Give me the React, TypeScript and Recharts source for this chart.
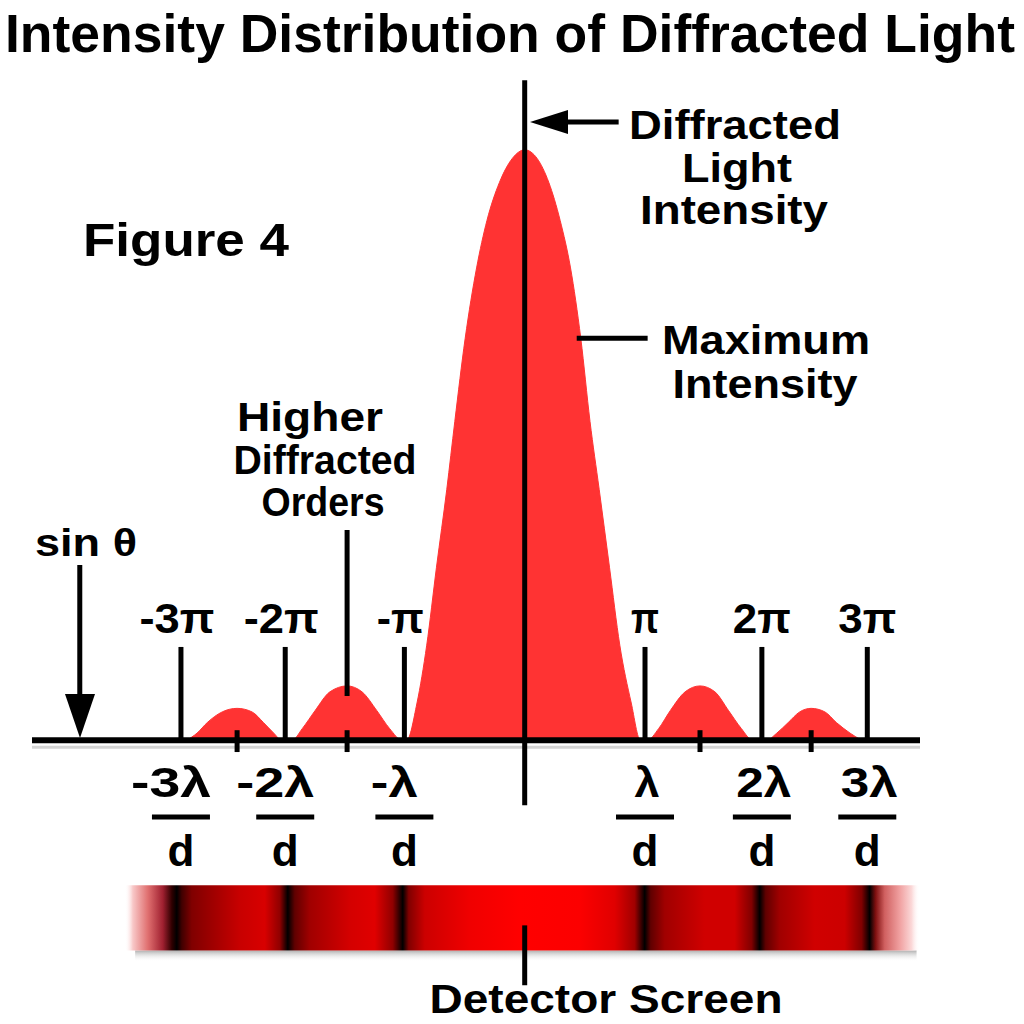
import React from 'react';
import { ComposedChart, Area, XAxis, YAxis, ReferenceLine, ReferenceArea } from 'recharts';

// phase position (approx. units of pi) and relative intensity
const phase = [
  -2.95, -2.86, -2.77, -2.64, -2.51, -2.38, -2.28, -2.19, -2.12,
  -2.03, -1.94, -1.83, -1.7, -1.55, -1.42, -1.29, -1.18, -1.07,
  -1.03, -0.94, -0.855, -0.77, -0.68, -0.61, -0.52, -0.42, -0.33, -0.22, -0.11, 0,
  0.11, 0.21, 0.31, 0.4, 0.49, 0.57, 0.65, 0.74, 0.83, 0.93, 1.01,
  1.07, 1.17, 1.27, 1.4, 1.53, 1.66, 1.78, 1.89, 1.99,
  2.11, 2.2, 2.3, 2.4, 2.5, 2.62, 2.72, 2.84, 2.94,
];
const intensity = [
  0, 0.012, 0.03, 0.048, 0.054, 0.048, 0.03, 0.012, 0,
  0, 0.02, 0.05, 0.082, 0.092, 0.082, 0.05, 0.02, 0,
  0, 0.063, 0.161, 0.293, 0.425, 0.54, 0.68, 0.8, 0.88, 0.945, 0.985, 1.0,
  0.985, 0.945, 0.88, 0.8, 0.68, 0.54, 0.425, 0.293, 0.161, 0.063, 0,
  0, 0.02, 0.05, 0.082, 0.092, 0.082, 0.05, 0.02, 0,
  0, 0.012, 0.03, 0.048, 0.054, 0.048, 0.03, 0.012, 0,
];

const piTicks = [-3.0, -2.09, -1.05, 1.05, 2.07, 2.99];
const piLabels = ['-3π', '-2π', '-π', 'π', '2π', '3π'];
const lambdaLabels = ['-3λ', '-2λ', '-λ', 'λ', '2λ', '3λ'];
const lobeCenters = [-2.51, -1.55, 1.53, 2.5];

const data = phase.map((x, i) => ({ x, y: intensity[i] }));

const FONT = '"Liberation Sans", Arial, Helvetica, sans-serif';
const piW = [75, 75, 47, 28, 58, 58];
const lamW = [80, 78, 47, 25, 55, 57];

// detector screen gradient stops: [position across bar 0..795, color, opacity]
const screenStops: [number, string, number][] = [
  [0, '#ffffff', 0], [8, '#f8c8c8', 1], [23, '#e07070', 1], [38, '#a02030', 1],
  [47, '#300000', 1], [52, '#000000', 1], [57, '#400000', 1], [67, '#800000', 1],
  [115, '#c80000', 1], [140, '#d80000', 1], [155, '#900000', 1], [163, '#000000', 1],
  [170, '#600000', 1], [185, '#a00000', 1], [225, '#d40000', 1], [250, '#e00000', 1],
  [268, '#900000', 1], [278, '#000000', 1], [284, '#800000', 1], [300, '#cc0000', 1],
  [345, '#f00000', 1], [395, '#ff0000', 1], [455, '#fc0000', 1], [490, '#e00000', 1],
  [510, '#a00000', 1], [520, '#000000', 1], [526, '#600000', 1], [540, '#a00000', 1],
  [580, '#d00000', 1], [610, '#d00000', 1], [627, '#800000', 1], [635, '#000000', 1],
  [641, '#600000', 1], [655, '#a00000', 1], [690, '#d00000', 1], [720, '#cc0000', 1],
  [737, '#800000', 1], [745, '#000000', 1], [751, '#801010', 1], [760, '#d06060', 1],
  [775, '#f0a0a0', 1], [787, '#fbd8d8', 1], [795, '#ffffff', 0],
];

function PhaseTick(props: any) {
  const { x, payload } = props;
  const i = piTicks.indexOf(payload.value);
  if (i < 0) return null;
  const neg = payload.value < 0;
  return (
    <g fontFamily={FONT} fontWeight="bold">
      <text x={x + (neg ? -4 : 0)} y={633} textAnchor="middle" fontSize={42} fill="#000"
        textLength={piW[i]} lengthAdjust="spacingAndGlyphs">{piLabels[i]}</text>
      <text x={x + (neg ? -10 : 2)} y={797} textAnchor="middle" fontSize={42} fill="#000"
        textLength={lamW[i]} lengthAdjust="spacingAndGlyphs">{lambdaLabels[i]}</text>
      <line x1={x - 29} x2={x + 29} y1={817} y2={817} stroke="#000" strokeWidth={5} />
      <text x={x} y={866} textAnchor="middle" fontSize={44} fill="#000">d</text>
    </g>
  );
}

const T = (p: { x: number; y: number; s: number; w: number; children: string }) => (
  <text x={p.x} y={p.y} fontSize={p.s} textAnchor="middle" textLength={p.w}
    lengthAdjust="spacingAndGlyphs" fontFamily={FONT} fontWeight="bold" fill="#000">{p.children}</text>
);

export default function App() {
  return (
    <div style={{ position: 'absolute', left: 0, top: 0, width: 1024, height: 1024, background: '#fff' }}>
      <ComposedChart width={1024} height={1024} data={data}
        margin={{ top: 79, right: 104, bottom: 0, left: 32 }}>
        <defs>
          <linearGradient id="screenGrad" x1="0" y1="0" x2="1" y2="0">
            {screenStops.map(([p, c, o], k) => (
              <stop key={k} offset={p / 795} stopColor={c} stopOpacity={o} />
            ))}
          </linearGradient>
          <linearGradient id="shadowGrad" x1="0" y1="0" x2="0" y2="1">
            <stop offset="0" stopColor="#9a9a9a" stopOpacity={0.8} />
            <stop offset="1" stopColor="#ffffff" stopOpacity={0} />
          </linearGradient>
        </defs>
        <XAxis dataKey="x" type="number" domain={[-4.3, 3.45]} allowDataOverflow
          ticks={piTicks} interval={0} tick={PhaseTick} tickLine={false} axisLine={false} height={24} />
        <YAxis hide type="number" domain={[-0.44, 1.12]} allowDataOverflow />
        <Area type="monotone" dataKey="y" baseValue={0} fill="#ff3333" fillOpacity={1}
          stroke="#ff3333" strokeWidth={1} isAnimationActive={false} />

        <ReferenceArea x1={-3.4} x2={3.42} y1={-0.375} y2={-0.356} fill="url(#shadowGrad)" fillOpacity={1} stroke="none" />
        <ReferenceArea x1={-3.49} x2={3.447} y1={-0.356} y2={-0.2458} fill="url(#screenGrad)" fillOpacity={1} stroke="none" />

        <ReferenceLine y={-0.012} stroke="#d4d4d4" strokeWidth={3} />
        <ReferenceLine y={0} stroke="#000" strokeWidth={6} />
        <ReferenceLine segment={[{ x: 0, y: -0.11 }, { x: 0, y: 1.118 }]} stroke="#000" strokeWidth={5} />
        <ReferenceLine segment={[{ x: 0, y: -0.415 }, { x: 0, y: -0.3136 }]} stroke="#000" strokeWidth={5} />
        {piTicks.map((t) => (
          <ReferenceLine key={'p' + t} segment={[{ x: t, y: 0 }, { x: t, y: 0.158 }]} stroke="#000" strokeWidth={5} />
        ))}
        {lobeCenters.map((t) => (
          <ReferenceLine key={'l' + t} segment={[{ x: t, y: -0.02 }, { x: t, y: 0.017 }]} stroke="#000" strokeWidth={5} />
        ))}
        <ReferenceLine segment={[{ x: -1.55, y: 0.075 }, { x: -1.55, y: 0.356 }]} stroke="#000" strokeWidth={5} />
        <ReferenceLine segment={[{ x: 0.454, y: 0.681 }, { x: 1.073, y: 0.681 }]} stroke="#000" strokeWidth={5} />
        <ReferenceLine segment={[{ x: 0.3, y: 1.047 }, { x: 0.82, y: 1.047 }]} stroke="#000" strokeWidth={5} />
        <ReferenceLine segment={[{ x: -3.883, y: 0.068 }, { x: -3.883, y: 0.2966 }]} stroke="#000" strokeWidth={5} />
      </ComposedChart>

      <svg width={1024} height={1024} style={{ position: 'absolute', left: 0, top: 0, pointerEvents: 'none' }}>
        <T x={510} y={52} s={53} w={1010}>Intensity Distribution of Diffracted Light</T>
        <T x={186} y={256} s={46} w={206}>Figure 4</T>
        <T x={735} y={139} s={41} w={212}>Diffracted</T>
        <T x={737} y={182} s={41} w={110}>Light</T>
        <T x={734} y={224} s={41} w={188}>Intensity</T>
        <T x={766} y={354} s={40} w={208}>Maximum</T>
        <T x={765} y={398} s={40} w={185}>Intensity</T>
        <T x={310} y={431} s={40} w={146}>Higher</T>
        <T x={325} y={474} s={40} w={183}>Diffracted</T>
        <T x={323} y={516} s={40} w={123}>Orders</T>
        <T x={86} y={556} s={38} w={102}>sin θ</T>
        <T x={606} y={1013} s={40} w={353}>Detector Screen</T>
        <polygon points="65,694 95,694 80,738" fill="#000" />
        <polygon points="530,122 568,110 568,134" fill="#000" />
      </svg>
    </div>
  );
}
